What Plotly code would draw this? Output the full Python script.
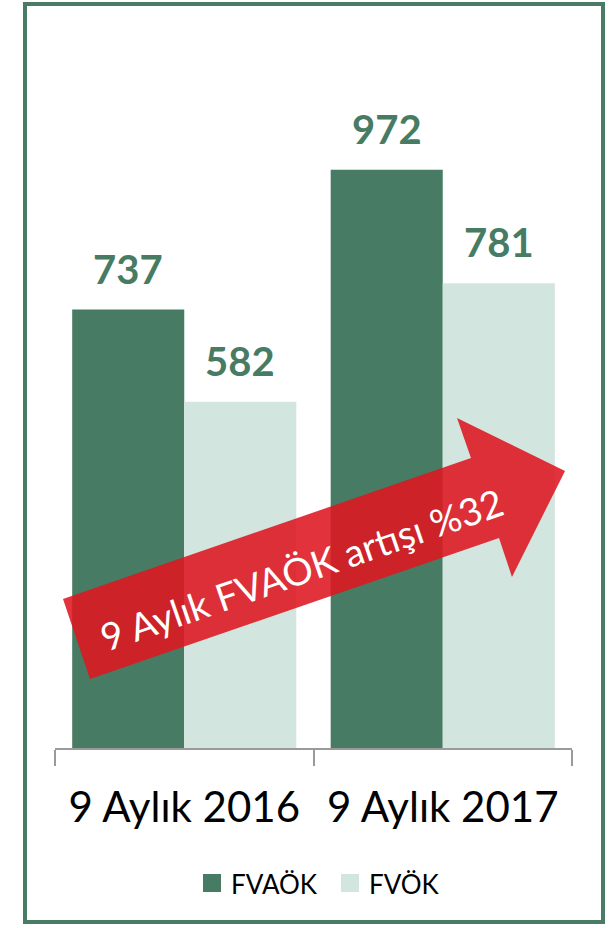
import plotly.graph_objects as go

categories = ["9 Aylık 2016", "9 Aylık 2017"]
fvaok = [737, 972]
fvok = [582, 781]
series_names = ["FVAÖK", "FVÖK"]
arrow_text = "9 Aylık FVAÖK artışı %32"

DARK = "#487b63"
LIGHT = "#d3e5df"
W, H = 607, 926
ML, MR, MT, MB = 55, 35, 90, 178
PW, PH = W - ML - MR, H - MT - MB


def px(x, y):
    return (x - ML) / PW, (H - MB - y) / PH


fig = go.Figure()
colors = [DARK, LIGHT]
for name, vals, col in zip(series_names, [fvaok, fvok], colors):
    fig.add_trace(go.Bar(x=categories, y=vals, name=name, showlegend=False, hoverinfo="skip",
                         marker=dict(color=col, line=dict(width=0))))

# value labels
for vals, shift in ((fvaok, -56), (fvok, 56)):
    for c, v in zip(categories, vals):
        fig.add_annotation(x=c, y=v, xref="x", yref="y", text=f"<b>{v}</b>", showarrow=False,
                           xshift=shift, yanchor="bottom", yshift=15,
                           font=dict(family="Lato", size=40, color=DARK))

# arrow
pts = [(63, 599), (471, 458), (457, 418), (565, 471), (512, 577), (499, 538), (90, 679)]
path = "M " + " L ".join(f"{px(a, b)[0]:.4f},{px(a, b)[1]:.4f}" for a, b in pts) + " Z"
fig.add_shape(type="path", path=path, xref="paper", yref="paper",
              fillcolor="rgba(222,22,32,0.88)", line=dict(width=0), layer="above")
tx, ty = px(301, 569)
fig.add_annotation(x=tx, y=ty, xref="paper", yref="paper", text=arrow_text, showarrow=False,
                   textangle=-19.07, xanchor="center", yanchor="middle",
                   font=dict(family="Lato", size=38, color="white"))

# manual legend
for name, col, sx in zip(series_names, colors, [203, 341]):
    a0, b0 = px(sx, 892)
    a1, b1 = px(sx + 18, 874)
    fig.add_shape(type="rect", xref="paper", yref="paper", x0=a0, y0=b0, x1=a1, y1=b1,
                  fillcolor=col, line=dict(width=0))
    lx, ly = px(sx + 26, 884)
    fig.add_annotation(x=lx, y=ly, xref="paper", yref="paper", text=name, showarrow=False,
                       xanchor="left", yanchor="middle",
                       font=dict(family="Lato", size=26, color="black"))

# frame
x0, y0 = px(25, 922)
x1, y1 = px(603, 4)
fig.add_shape(type="rect", xref="paper", yref="paper", x0=x0, y0=y0, x1=x1, y1=y1,
              line=dict(color="#4a7c65", width=4), fillcolor="rgba(0,0,0,0)", layer="below")

fig.update_layout(
    width=W, height=H, margin=dict(l=ML, r=MR, t=MT, b=MB),
    barmode="group", bargap=0.133, bargroupgap=0,
    plot_bgcolor="white", paper_bgcolor="white",
    showlegend=False, hovermode=False,
    xaxis=dict(showline=True, linecolor="#9a9a9a", linewidth=1.5, ticks="outside", ticklen=16,
               tickcolor="#9a9a9a", tickwidth=1.5, tickson="boundaries", ticklabelstandoff=22,
               tickfont=dict(family="Lato", size=42, color="black"), fixedrange=True),
    yaxis=dict(range=[0, 1106], visible=False, showgrid=False, fixedrange=True),
)

fig.write_html("out.html", config={"displayModeBar": False},
               post_script="document.body.style.margin='0';document.body.style.padding='0';")
